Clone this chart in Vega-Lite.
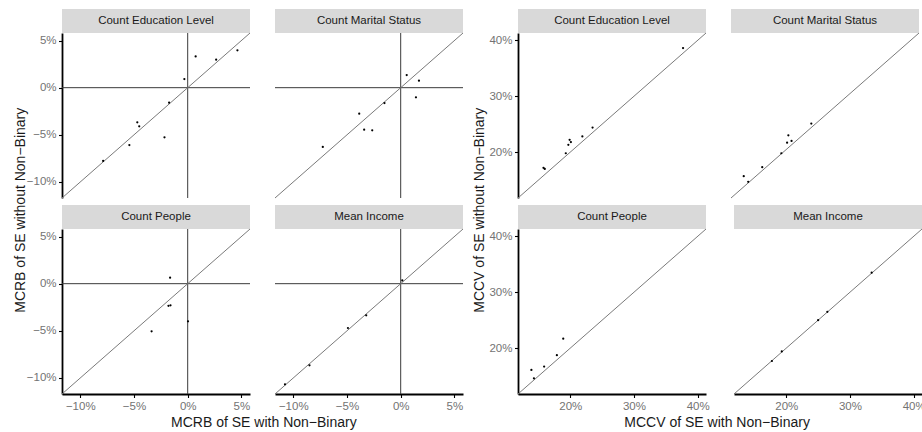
{
"$schema": "https://vega.github.io/schema/vega-lite/v6.json",
"padding": {"left": 14, "top": 9, "right": 0, "bottom": 0},
"config": {
 "font": "Liberation Sans",
 "view": {"stroke": null},
 "axis": {"grid": false, "domainColor": "#000000", "domainWidth": 1.8, "tickColor": "#000000", "tickSize": 3.5, "tickWidth": 1.1, "labelColor": "#737373", "labelFontSize": 11.5, "labelPadding": 2.5, "labelFlush": false, "labelOverlap": false, "titleFontWeight": "normal"},
 "title": {"fontWeight": "normal", "fontSize": 14, "color": "#1a1a1a", "font": "Liberation Sans"}
},
"data": {"values": [
 {"block":"MCRB","panel":"Count Education Level","x":0.0463,"y":0.0396},
 {"block":"MCRB","panel":"Count Education Level","x":0.0074,"y":0.0332},
 {"block":"MCRB","panel":"Count Education Level","x":0.0265,"y":0.0297},
 {"block":"MCRB","panel":"Count Education Level","x":-0.0031,"y":0.0092},
 {"block":"MCRB","panel":"Count Education Level","x":-0.0173,"y":-0.0159},
 {"block":"MCRB","panel":"Count Education Level","x":-0.0469,"y":-0.0367},
 {"block":"MCRB","panel":"Count Education Level","x":-0.0451,"y":-0.0410},
 {"block":"MCRB","panel":"Count Education Level","x":-0.0216,"y":-0.0527},
 {"block":"MCRB","panel":"Count Education Level","x":-0.0543,"y":-0.0608},
 {"block":"MCRB","panel":"Count Education Level","x":-0.0787,"y":-0.0777},
 {"block":"MCRB","panel":"Count Marital Status","x":0.0056,"y":0.0134},
 {"block":"MCRB","panel":"Count Marital Status","x":0.0170,"y":0.0074},
 {"block":"MCRB","panel":"Count Marital Status","x":0.0142,"y":-0.0102},
 {"block":"MCRB","panel":"Count Marital Status","x":-0.0151,"y":-0.0163},
 {"block":"MCRB","panel":"Count Marital Status","x":-0.0386,"y":-0.0276},
 {"block":"MCRB","panel":"Count Marital Status","x":-0.0340,"y":-0.0445},
 {"block":"MCRB","panel":"Count Marital Status","x":-0.0265,"y":-0.0452},
 {"block":"MCRB","panel":"Count Marital Status","x":-0.0725,"y":-0.0629},
 {"block":"MCRB","panel":"Count People","x":-0.0164,"y":0.0064},
 {"block":"MCRB","panel":"Count People","x":-0.0179,"y":-0.0235},
 {"block":"MCRB","panel":"Count People","x":-0.0160,"y":-0.0230},
 {"block":"MCRB","panel":"Count People","x":0.0003,"y":-0.0399},
 {"block":"MCRB","panel":"Count People","x":-0.0336,"y":-0.0505},
 {"block":"MCRB","panel":"Mean Income","x":0.0015,"y":0.0035},
 {"block":"MCRB","panel":"Mean Income","x":-0.0321,"y":-0.0336},
 {"block":"MCRB","panel":"Mean Income","x":-0.0491,"y":-0.0470},
 {"block":"MCRB","panel":"Mean Income","x":-0.0849,"y":-0.0866},
 {"block":"MCRB","panel":"Mean Income","x":-0.1077,"y":-0.1067},
 {"block":"MCCV","panel":"Count Education Level","x":0.377,"y":0.386},
 {"block":"MCCV","panel":"Count Education Level","x":0.235,"y":0.244},
 {"block":"MCCV","panel":"Count Education Level","x":0.219,"y":0.228},
 {"block":"MCCV","panel":"Count Education Level","x":0.199,"y":0.222},
 {"block":"MCCV","panel":"Count Education Level","x":0.201,"y":0.218},
 {"block":"MCCV","panel":"Count Education Level","x":0.197,"y":0.213},
 {"block":"MCCV","panel":"Count Education Level","x":0.193,"y":0.198},
 {"block":"MCCV","panel":"Count Education Level","x":0.158,"y":0.172},
 {"block":"MCCV","panel":"Count Education Level","x":0.160,"y":0.170},
 {"block":"MCCV","panel":"Count Marital Status","x":0.244,"y":0.251},
 {"block":"MCCV","panel":"Count Marital Status","x":0.208,"y":0.230},
 {"block":"MCCV","panel":"Count Marital Status","x":0.206,"y":0.217},
 {"block":"MCCV","panel":"Count Marital Status","x":0.213,"y":0.220},
 {"block":"MCCV","panel":"Count Marital Status","x":0.197,"y":0.198},
 {"block":"MCCV","panel":"Count Marital Status","x":0.167,"y":0.173},
 {"block":"MCCV","panel":"Count Marital Status","x":0.138,"y":0.157},
 {"block":"MCCV","panel":"Count Marital Status","x":0.145,"y":0.147},
 {"block":"MCCV","panel":"Count People","x":0.189,"y":0.217},
 {"block":"MCCV","panel":"Count People","x":0.179,"y":0.1875},
 {"block":"MCCV","panel":"Count People","x":0.159,"y":0.167},
 {"block":"MCCV","panel":"Count People","x":0.139,"y":0.161},
 {"block":"MCCV","panel":"Count People","x":0.143,"y":0.146},
 {"block":"MCCV","panel":"Mean Income","x":0.334,"y":0.335},
 {"block":"MCCV","panel":"Mean Income","x":0.2645,"y":0.265},
 {"block":"MCCV","panel":"Mean Income","x":0.250,"y":0.250},
 {"block":"MCCV","panel":"Mean Income","x":0.193,"y":0.194},
 {"block":"MCCV","panel":"Mean Income","x":0.1775,"y":0.177}
]},
"spacing": 8,
"hconcat": [
 {"title": {"text": "MCRB of SE with Non\u2212Binary", "orient": "bottom", "anchor": "middle", "dx": 25, "offset": 4},
  "vconcat": [
  {"title": {"text": "MCRB of SE without Non\u2212Binary", "orient": "left", "anchor": "middle", "offset": -2},
   "spacing": 6,
   "vconcat": [
    {"spacing": 23, "hconcat": [
     {"spacing": 0, "bounds": "flush", "vconcat": [
      {"width": 188, "height": 24, "view": {"fill": "#d9d9d9", "stroke": null},
       "transform": [{"filter": "datum.block == 'MCRB' && datum.panel == 'Count Education Level'"}, {"aggregate": [{"op": "count", "as": "n"}], "groupby": ["panel"]}],
       "mark": {"type": "text", "fontSize": 11.5, "color": "#1a1a1a"}, "encoding": {"text": {"field": "panel"}}},
      {"width": 188, "height": 165, "layer": [
       {"data": {"values": [{}]}, "mark": {"type": "rule", "color": "#3a3a3a", "strokeWidth": 1}, "encoding": {"y": {"datum": 0, "type": "quantitative", "scale": {"domain": [-0.117, 0.058], "nice": false, "zero": false}, "axis": {"values": [-0.1, -0.05, 0, 0.05], "format": ".0%", "title": null}}}},
       {"data": {"values": [{}]}, "mark": {"type": "rule", "color": "#3a3a3a", "strokeWidth": 1}, "encoding": {"x": {"datum": 0, "type": "quantitative", "scale": {"domain": [-0.117, 0.058], "nice": false, "zero": false}, "axis": null}}},
       {"data": {"values": [{}]}, "mark": {"type": "rule", "color": "#7a7a7a", "strokeWidth": 1}, "encoding": {"x": {"datum": -0.117, "type": "quantitative", "scale": {"domain": [-0.117, 0.058], "nice": false, "zero": false}, "axis": null}, "x2": {"datum": 0.058}, "y": {"datum": -0.117, "type": "quantitative", "scale": {"domain": [-0.117, 0.058], "nice": false, "zero": false}, "axis": {"values": [-0.1, -0.05, 0, 0.05], "format": ".0%", "title": null}}, "y2": {"datum": 0.058}}},
       {"transform": [{"filter": "datum.block == 'MCRB' && datum.panel == 'Count Education Level'"}], "mark": {"type": "point", "filled": true, "size": 5, "color": "#000000", "opacity": 1}, "encoding": {"x": {"field": "x", "type": "quantitative", "scale": {"domain": [-0.117, 0.058], "nice": false, "zero": false}, "axis": null}, "y": {"field": "y", "type": "quantitative", "scale": {"domain": [-0.117, 0.058], "nice": false, "zero": false}, "axis": {"values": [-0.1, -0.05, 0, 0.05], "format": ".0%", "title": null}}}}
      ]}
     ]},
     {"spacing": 0, "bounds": "flush", "vconcat": [
      {"width": 188, "height": 24, "view": {"fill": "#d9d9d9", "stroke": null},
       "transform": [{"filter": "datum.block == 'MCRB' && datum.panel == 'Count Marital Status'"}, {"aggregate": [{"op": "count", "as": "n"}], "groupby": ["panel"]}],
       "mark": {"type": "text", "fontSize": 11.5, "color": "#1a1a1a"}, "encoding": {"text": {"field": "panel"}}},
      {"width": 188, "height": 165, "layer": [
       {"data": {"values": [{}]}, "mark": {"type": "rule", "color": "#3a3a3a", "strokeWidth": 1}, "encoding": {"y": {"datum": 0, "type": "quantitative", "scale": {"domain": [-0.117, 0.058], "nice": false, "zero": false}, "axis": null}}},
       {"data": {"values": [{}]}, "mark": {"type": "rule", "color": "#3a3a3a", "strokeWidth": 1}, "encoding": {"x": {"datum": 0, "type": "quantitative", "scale": {"domain": [-0.117, 0.058], "nice": false, "zero": false}, "axis": null}}},
       {"data": {"values": [{}]}, "mark": {"type": "rule", "color": "#7a7a7a", "strokeWidth": 1}, "encoding": {"x": {"datum": -0.117, "type": "quantitative", "scale": {"domain": [-0.117, 0.058], "nice": false, "zero": false}, "axis": null}, "x2": {"datum": 0.058}, "y": {"datum": -0.117, "type": "quantitative", "scale": {"domain": [-0.117, 0.058], "nice": false, "zero": false}, "axis": null}, "y2": {"datum": 0.058}}},
       {"transform": [{"filter": "datum.block == 'MCRB' && datum.panel == 'Count Marital Status'"}], "mark": {"type": "point", "filled": true, "size": 5, "color": "#000000", "opacity": 1}, "encoding": {"x": {"field": "x", "type": "quantitative", "scale": {"domain": [-0.117, 0.058], "nice": false, "zero": false}, "axis": null}, "y": {"field": "y", "type": "quantitative", "scale": {"domain": [-0.117, 0.058], "nice": false, "zero": false}, "axis": null}}}
      ]}
     ]}
    ]},
    {"spacing": 23, "hconcat": [
     {"spacing": 0, "bounds": "flush", "vconcat": [
      {"width": 188, "height": 24, "view": {"fill": "#d9d9d9", "stroke": null},
       "transform": [{"filter": "datum.block == 'MCRB' && datum.panel == 'Count People'"}, {"aggregate": [{"op": "count", "as": "n"}], "groupby": ["panel"]}],
       "mark": {"type": "text", "fontSize": 11.5, "color": "#1a1a1a"}, "encoding": {"text": {"field": "panel"}}},
      {"width": 188, "height": 165, "layer": [
       {"data": {"values": [{}]}, "mark": {"type": "rule", "color": "#3a3a3a", "strokeWidth": 1}, "encoding": {"y": {"datum": 0, "type": "quantitative", "scale": {"domain": [-0.117, 0.058], "nice": false, "zero": false}, "axis": {"values": [-0.1, -0.05, 0, 0.05], "format": ".0%", "title": null}}}},
       {"data": {"values": [{}]}, "mark": {"type": "rule", "color": "#3a3a3a", "strokeWidth": 1}, "encoding": {"x": {"datum": 0, "type": "quantitative", "scale": {"domain": [-0.117, 0.058], "nice": false, "zero": false}, "axis": {"values": [-0.1, -0.05, 0, 0.05], "format": ".0%", "title": null}}}},
       {"data": {"values": [{}]}, "mark": {"type": "rule", "color": "#7a7a7a", "strokeWidth": 1}, "encoding": {"x": {"datum": -0.117, "type": "quantitative", "scale": {"domain": [-0.117, 0.058], "nice": false, "zero": false}, "axis": {"values": [-0.1, -0.05, 0, 0.05], "format": ".0%", "title": null}}, "x2": {"datum": 0.058}, "y": {"datum": -0.117, "type": "quantitative", "scale": {"domain": [-0.117, 0.058], "nice": false, "zero": false}, "axis": {"values": [-0.1, -0.05, 0, 0.05], "format": ".0%", "title": null}}, "y2": {"datum": 0.058}}},
       {"transform": [{"filter": "datum.block == 'MCRB' && datum.panel == 'Count People'"}], "mark": {"type": "point", "filled": true, "size": 5, "color": "#000000", "opacity": 1}, "encoding": {"x": {"field": "x", "type": "quantitative", "scale": {"domain": [-0.117, 0.058], "nice": false, "zero": false}, "axis": {"values": [-0.1, -0.05, 0, 0.05], "format": ".0%", "title": null}}, "y": {"field": "y", "type": "quantitative", "scale": {"domain": [-0.117, 0.058], "nice": false, "zero": false}, "axis": {"values": [-0.1, -0.05, 0, 0.05], "format": ".0%", "title": null}}}}
      ]}
     ]},
     {"spacing": 0, "bounds": "flush", "vconcat": [
      {"width": 188, "height": 24, "view": {"fill": "#d9d9d9", "stroke": null},
       "transform": [{"filter": "datum.block == 'MCRB' && datum.panel == 'Mean Income'"}, {"aggregate": [{"op": "count", "as": "n"}], "groupby": ["panel"]}],
       "mark": {"type": "text", "fontSize": 11.5, "color": "#1a1a1a"}, "encoding": {"text": {"field": "panel"}}},
      {"width": 188, "height": 165, "layer": [
       {"data": {"values": [{}]}, "mark": {"type": "rule", "color": "#3a3a3a", "strokeWidth": 1}, "encoding": {"y": {"datum": 0, "type": "quantitative", "scale": {"domain": [-0.117, 0.058], "nice": false, "zero": false}, "axis": null}}},
       {"data": {"values": [{}]}, "mark": {"type": "rule", "color": "#3a3a3a", "strokeWidth": 1}, "encoding": {"x": {"datum": 0, "type": "quantitative", "scale": {"domain": [-0.117, 0.058], "nice": false, "zero": false}, "axis": {"values": [-0.1, -0.05, 0, 0.05], "format": ".0%", "title": null}}}},
       {"data": {"values": [{}]}, "mark": {"type": "rule", "color": "#7a7a7a", "strokeWidth": 1}, "encoding": {"x": {"datum": -0.117, "type": "quantitative", "scale": {"domain": [-0.117, 0.058], "nice": false, "zero": false}, "axis": {"values": [-0.1, -0.05, 0, 0.05], "format": ".0%", "title": null}}, "x2": {"datum": 0.058}, "y": {"datum": -0.117, "type": "quantitative", "scale": {"domain": [-0.117, 0.058], "nice": false, "zero": false}, "axis": null}, "y2": {"datum": 0.058}}},
       {"transform": [{"filter": "datum.block == 'MCRB' && datum.panel == 'Mean Income'"}], "mark": {"type": "point", "filled": true, "size": 5, "color": "#000000", "opacity": 1}, "encoding": {"x": {"field": "x", "type": "quantitative", "scale": {"domain": [-0.117, 0.058], "nice": false, "zero": false}, "axis": {"values": [-0.1, -0.05, 0, 0.05], "format": ".0%", "title": null}}, "y": {"field": "y", "type": "quantitative", "scale": {"domain": [-0.117, 0.058], "nice": false, "zero": false}, "axis": null}}}
      ]}
     ]}
    ]}
   ]}
  ]},
 {"title": {"text": "MCCV of SE with Non\u2212Binary", "orient": "bottom", "anchor": "middle", "dx": 18, "offset": 4},
  "vconcat": [
  {"title": {"text": "MCCV of SE without Non\u2212Binary", "orient": "left", "anchor": "middle", "offset": 2},
   "spacing": 6,
   "vconcat": [
    {"spacing": 23, "hconcat": [
     {"spacing": 0, "bounds": "flush", "vconcat": [
      {"width": 188, "height": 24, "view": {"fill": "#d9d9d9", "stroke": null},
       "transform": [{"filter": "datum.block == 'MCCV' && datum.panel == 'Count Education Level'"}, {"aggregate": [{"op": "count", "as": "n"}], "groupby": ["panel"]}],
       "mark": {"type": "text", "fontSize": 11.5, "color": "#1a1a1a"}, "encoding": {"text": {"field": "panel"}}},
      {"width": 188, "height": 165, "layer": [
       {"data": {"values": [{}]}, "mark": {"type": "rule", "color": "#7a7a7a", "strokeWidth": 1}, "encoding": {"x": {"datum": 0.118, "type": "quantitative", "scale": {"domain": [0.118, 0.413], "nice": false, "zero": false}, "axis": null}, "x2": {"datum": 0.413}, "y": {"datum": 0.118, "type": "quantitative", "scale": {"domain": [0.118, 0.413], "nice": false, "zero": false}, "axis": {"values": [0.2, 0.3, 0.4], "format": ".0%", "title": null}}, "y2": {"datum": 0.413}}},
       {"transform": [{"filter": "datum.block == 'MCCV' && datum.panel == 'Count Education Level'"}], "mark": {"type": "point", "filled": true, "size": 5, "color": "#000000", "opacity": 1}, "encoding": {"x": {"field": "x", "type": "quantitative", "scale": {"domain": [0.118, 0.413], "nice": false, "zero": false}, "axis": null}, "y": {"field": "y", "type": "quantitative", "scale": {"domain": [0.118, 0.413], "nice": false, "zero": false}, "axis": {"values": [0.2, 0.3, 0.4], "format": ".0%", "title": null}}}}
      ]}
     ]},
     {"spacing": 0, "bounds": "flush", "vconcat": [
      {"width": 188, "height": 24, "view": {"fill": "#d9d9d9", "stroke": null},
       "transform": [{"filter": "datum.block == 'MCCV' && datum.panel == 'Count Marital Status'"}, {"aggregate": [{"op": "count", "as": "n"}], "groupby": ["panel"]}],
       "mark": {"type": "text", "fontSize": 11.5, "color": "#1a1a1a"}, "encoding": {"text": {"field": "panel"}}},
      {"width": 188, "height": 165, "layer": [
       {"data": {"values": [{}]}, "mark": {"type": "rule", "color": "#7a7a7a", "strokeWidth": 1}, "encoding": {"x": {"datum": 0.118, "type": "quantitative", "scale": {"domain": [0.118, 0.413], "nice": false, "zero": false}, "axis": null}, "x2": {"datum": 0.413}, "y": {"datum": 0.118, "type": "quantitative", "scale": {"domain": [0.118, 0.413], "nice": false, "zero": false}, "axis": null}, "y2": {"datum": 0.413}}},
       {"transform": [{"filter": "datum.block == 'MCCV' && datum.panel == 'Count Marital Status'"}], "mark": {"type": "point", "filled": true, "size": 5, "color": "#000000", "opacity": 1}, "encoding": {"x": {"field": "x", "type": "quantitative", "scale": {"domain": [0.118, 0.413], "nice": false, "zero": false}, "axis": null}, "y": {"field": "y", "type": "quantitative", "scale": {"domain": [0.118, 0.413], "nice": false, "zero": false}, "axis": null}}}
      ]}
     ]}
    ]},
    {"spacing": 23, "hconcat": [
     {"spacing": 0, "bounds": "flush", "vconcat": [
      {"width": 188, "height": 24, "view": {"fill": "#d9d9d9", "stroke": null},
       "transform": [{"filter": "datum.block == 'MCCV' && datum.panel == 'Count People'"}, {"aggregate": [{"op": "count", "as": "n"}], "groupby": ["panel"]}],
       "mark": {"type": "text", "fontSize": 11.5, "color": "#1a1a1a"}, "encoding": {"text": {"field": "panel"}}},
      {"width": 188, "height": 165, "layer": [
       {"data": {"values": [{}]}, "mark": {"type": "rule", "color": "#7a7a7a", "strokeWidth": 1}, "encoding": {"x": {"datum": 0.118, "type": "quantitative", "scale": {"domain": [0.118, 0.413], "nice": false, "zero": false}, "axis": {"values": [0.2, 0.3, 0.4], "format": ".0%", "title": null}}, "x2": {"datum": 0.413}, "y": {"datum": 0.118, "type": "quantitative", "scale": {"domain": [0.118, 0.413], "nice": false, "zero": false}, "axis": {"values": [0.2, 0.3, 0.4], "format": ".0%", "title": null}}, "y2": {"datum": 0.413}}},
       {"transform": [{"filter": "datum.block == 'MCCV' && datum.panel == 'Count People'"}], "mark": {"type": "point", "filled": true, "size": 5, "color": "#000000", "opacity": 1}, "encoding": {"x": {"field": "x", "type": "quantitative", "scale": {"domain": [0.118, 0.413], "nice": false, "zero": false}, "axis": {"values": [0.2, 0.3, 0.4], "format": ".0%", "title": null}}, "y": {"field": "y", "type": "quantitative", "scale": {"domain": [0.118, 0.413], "nice": false, "zero": false}, "axis": {"values": [0.2, 0.3, 0.4], "format": ".0%", "title": null}}}}
      ]}
     ]},
     {"spacing": 0, "bounds": "flush", "vconcat": [
      {"width": 188, "height": 24, "view": {"fill": "#d9d9d9", "stroke": null},
       "transform": [{"filter": "datum.block == 'MCCV' && datum.panel == 'Mean Income'"}, {"aggregate": [{"op": "count", "as": "n"}], "groupby": ["panel"]}],
       "mark": {"type": "text", "fontSize": 11.5, "color": "#1a1a1a"}, "encoding": {"text": {"field": "panel"}}},
      {"width": 188, "height": 165, "layer": [
       {"data": {"values": [{}]}, "mark": {"type": "rule", "color": "#7a7a7a", "strokeWidth": 1}, "encoding": {"x": {"datum": 0.118, "type": "quantitative", "scale": {"domain": [0.118, 0.413], "nice": false, "zero": false}, "axis": {"values": [0.2, 0.3, 0.4], "format": ".0%", "title": null}}, "x2": {"datum": 0.413}, "y": {"datum": 0.118, "type": "quantitative", "scale": {"domain": [0.118, 0.413], "nice": false, "zero": false}, "axis": null}, "y2": {"datum": 0.413}}},
       {"transform": [{"filter": "datum.block == 'MCCV' && datum.panel == 'Mean Income'"}], "mark": {"type": "point", "filled": true, "size": 5, "color": "#000000", "opacity": 1}, "encoding": {"x": {"field": "x", "type": "quantitative", "scale": {"domain": [0.118, 0.413], "nice": false, "zero": false}, "axis": {"values": [0.2, 0.3, 0.4], "format": ".0%", "title": null}}, "y": {"field": "y", "type": "quantitative", "scale": {"domain": [0.118, 0.413], "nice": false, "zero": false}, "axis": null}}}
      ]}
     ]}
    ]}
   ]}
  ]}
]
}
